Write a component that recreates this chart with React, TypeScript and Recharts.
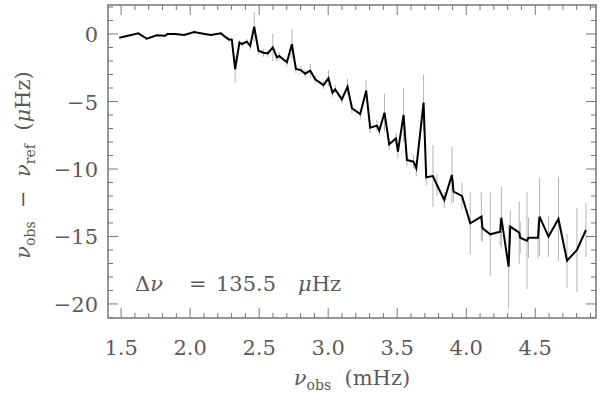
import React from 'react';
import { LineChart, Line, XAxis, YAxis, ErrorBar, ReferenceArea, Customized } from 'recharts';

// Observed frequency (mHz)
const freq = [
  1.488, 1.625, 1.686, 1.759, 1.819, 1.836, 1.891, 1.957, 2.029, 2.096,
  2.150, 2.222, 2.278, 2.302, 2.326, 2.357, 2.375, 2.411, 2.435, 2.464,
  2.495, 2.531, 2.563, 2.599, 2.628, 2.645, 2.701, 2.737, 2.766, 2.802,
  2.833, 2.870, 2.906, 2.966, 3.002, 3.031, 3.051, 3.099, 3.140, 3.172,
  3.232, 3.275, 3.304, 3.353, 3.370, 3.408, 3.442, 3.491, 3.505, 3.546,
  3.570, 3.618, 3.638, 3.691, 3.710, 3.759, 3.788, 3.841, 3.896, 3.908,
  3.969, 4.029, 4.109, 4.118, 4.174, 4.246, 4.254, 4.307, 4.319, 4.384,
  4.391, 4.440, 4.451, 4.520, 4.531, 4.596, 4.668, 4.730, 4.802, 4.867,
];
// nu_obs - nu_ref (muHz)
const shift = [
  -0.27, 0.05, -0.35, -0.10, -0.13, 0.0, 0.0, -0.07, 0.15, 0.02,
  -0.07, 0.05, -0.39, -0.44, -2.61, -0.64, -0.74, -0.57, -0.87, 0.54,
  -1.24, -1.39, -1.43, -0.99, -1.73, -1.63, -2.10, -0.76, -2.59, -2.67,
  -2.94, -2.72, -3.36, -3.78, -3.28, -4.35, -4.10, -4.84, -3.90, -5.50,
  -5.93, -4.20, -6.94, -6.79, -7.16, -5.83, -8.17, -7.73, -8.72, -6.00,
  -9.33, -9.46, -9.95, -5.09, -10.61, -10.52, -11.19, -12.30, -10.44, -11.68,
  -12.00, -14.02, -13.53, -14.39, -14.84, -14.64, -13.61, -17.24, -14.27, -14.72,
  -15.09, -15.31, -15.09, -15.09, -13.53, -15.01, -13.70, -16.79, -16.00, -14.52,
];
// uncertainty (muHz)
const sigma = [
  0.1, 0.1, 0.1, 0.1, 0.1, 0.1, 0.1, 0.1, 0.1, 0.1,
  0.1, 0.1, 0.2, 0.2, 1.0, 0.2, 0.2, 0.2, 0.3, 1.1,
  0.3, 0.3, 0.3, 1.0, 0.3, 0.3, 0.3, 1.1, 0.3, 0.3,
  0.3, 0.5, 0.3, 0.3, 0.6, 0.3, 0.3, 0.3, 0.6, 0.4,
  0.4, 0.8, 0.4, 0.4, 0.4, 1.4, 0.4, 0.4, 0.5, 2.0,
  0.5, 0.5, 0.6, 2.1, 0.6, 2.3, 0.8, 0.6, 2.1, 0.8,
  1.0, 2.3, 1.8, 1.0, 3.1, 1.0, 2.3, 3.1, 1.2, 2.3,
  1.2, 3.6, 1.5, 1.5, 2.9, 1.5, 3.1, 2.0, 3.1, 2.0,
];

const xMajorTicks = [1.5, 2.0, 2.5, 3.0, 3.5, 4.0, 4.5];
const xAllTicks = [
  1.5, 1.6, 1.7, 1.8, 1.9, 2.0, 2.1, 2.2, 2.3, 2.4, 2.5, 2.6, 2.7, 2.8, 2.9,
  3.0, 3.1, 3.2, 3.3, 3.4, 3.5, 3.6, 3.7, 3.8, 3.9, 4.0, 4.1, 4.2, 4.3, 4.4,
  4.5, 4.6, 4.7, 4.8, 4.9,
];
const yMajorTicks = [0, -5, -10, -15, -20];
const yAllTicks = [
  2, 1, 0, -1, -2, -3, -4, -5, -6, -7, -8, -9, -10, -11, -12, -13, -14, -15,
  -16, -17, -18, -19, -20, -21,
];
const xDomain = [1.405, 4.94];
const yDomain = [-21.04, 2.15];

const data = freq.map((f, i) => ({ f, d: shift[i], e: sigma[i] }));

const W = 600;
const H = 394;
const TOP = 5;
const RIGHT_EDGE = 596;
const AXIS = '#777';
const TEXT = '#5a5a5a';
const FONT = '"DejaVu Serif"';
const fs = (size: number): React.CSSProperties => ({ fontFamily: FONT, fontSize: size });

const isIn = (arr: number[], v: number) => arr.some((t) => Math.abs(t - v) < 1e-6);

const XTick = (props: any) => {
  const { x, y, payload } = props;
  const v = payload.value as number;
  const major = isIn(xMajorTicks, v);
  const len = major ? 10 : 5;
  return (
    <g>
      <line x1={x} x2={x} y1={y} y2={y - len} stroke={AXIS} strokeWidth={1} />
      <line x1={x} x2={x} y1={TOP} y2={TOP + len} stroke={AXIS} strokeWidth={1} />
      {major && (
        <text x={x} y={y + 37} textAnchor="middle" style={fs(21)} fill={TEXT}>
          {v.toFixed(1)}
        </text>
      )}
    </g>
  );
};

const YTick = (props: any) => {
  const { x, y, payload } = props;
  const v = payload.value as number;
  const major = isIn(yMajorTicks, v);
  const len = major ? 10 : 5;
  return (
    <g>
      <line x1={x} x2={x + len} y1={y} y2={y} stroke={AXIS} strokeWidth={1} />
      <line x1={RIGHT_EDGE} x2={RIGHT_EDGE - len} y1={y} y2={y} stroke={AXIS} strokeWidth={1} />
      {major && (
        <text x={x - 10} y={y + 8} textAnchor="end" style={fs(21)} fill={TEXT}>
          {v < 0 ? '\u2212' + Math.abs(v) : String(v)}
        </text>
      )}
    </g>
  );
};

const XTitle = (props: any) => {
  const vb = props.viewBox || { x: 108, y: 318, width: 488, height: 76 };
  const cx = vb.x + vb.width / 2;
  return (
    <text x={cx} y={vb.y + 67} textAnchor="middle" style={fs(21)} fill={TEXT}>
      <tspan fontStyle="italic">ν</tspan>
      <tspan style={fs(14)} dy={5}>obs</tspan>
      <tspan dy={-5}>{'\u00a0\u00a0(mHz)'}</tspan>
    </text>
  );
};

const YTitle = () => {
  const cx = 30;
  const cy = 165;
  return (
    <text
      x={cx}
      y={cy}
      textAnchor="middle"
      transform={`rotate(-90, ${cx}, ${cy})`}
      style={fs(21)}
      fill={TEXT}
    >
      <tspan fontStyle="italic">ν</tspan>
      <tspan style={fs(14)} dy={5}>obs</tspan>
      <tspan dy={-5}>{'\u00a0\u00a0\u2212\u00a0\u00a0'}</tspan>
      <tspan fontStyle="italic">ν</tspan>
      <tspan style={fs(14)} dy={5}>ref</tspan>
      <tspan dy={-5}>{'\u00a0\u00a0('}</tspan>
      <tspan fontStyle="italic">μ</tspan>
      <tspan>{'Hz)'}</tspan>
    </text>
  );
};

const DeltaLabel = () => (
  <text x={135} y={291} style={fs(21)} fill={TEXT}>
    <tspan>Δ</tspan>
    <tspan fontStyle="italic">ν</tspan>
    <tspan x={189}>=</tspan>
    <tspan x={216}>135.5</tspan>
    <tspan x={298} fontStyle="italic">μ</tspan>
    <tspan>Hz</tspan>
  </text>
);

export default function App() {
  return (
    <div style={{ position: 'absolute', left: 0, top: 0, width: W, height: H, background: '#fff' }}>
      <LineChart
        width={W}
        height={H}
        data={data}
        margin={{ top: TOP, right: W - RIGHT_EDGE, bottom: 0, left: 0 }}
      >
        <XAxis
          dataKey="f"
          type="number"
          domain={xDomain}
          ticks={xAllTicks}
          interval={0}
          allowDataOverflow
          height={76}
          tickSize={0}
          tickMargin={0}
          axisLine={false}
          tickLine={false}
          tick={<XTick />}
          label={<XTitle />}
        />
        <YAxis
          type="number"
          domain={yDomain}
          ticks={yAllTicks}
          interval={0}
          allowDataOverflow
          width={108}
          tickSize={0}
          tickMargin={0}
          axisLine={false}
          tickLine={false}
          tick={<YTick />}
          label={<YTitle />}
        />
        <ReferenceArea
          x1={xDomain[0]}
          x2={xDomain[1]}
          y1={yDomain[0]}
          y2={yDomain[1]}
          fill="none"
          stroke={AXIS}
          strokeWidth={1.5}
          ifOverflow="visible"
        />
        <Line
          dataKey="d"
          stroke="none"
          dot={false}
          activeDot={false}
          isAnimationActive={false}
        >
          <ErrorBar dataKey="e" width={0} stroke="#b5b5b5" strokeWidth={1} direction="y" isAnimationActive={false} />
        </Line>
        <Line
          dataKey="d"
          type="linear"
          stroke="#000"
          strokeWidth={2}
          dot={false}
          activeDot={false}
          isAnimationActive={false}
        />
        <Customized component={DeltaLabel} />
      </LineChart>
    </div>
  );
}
